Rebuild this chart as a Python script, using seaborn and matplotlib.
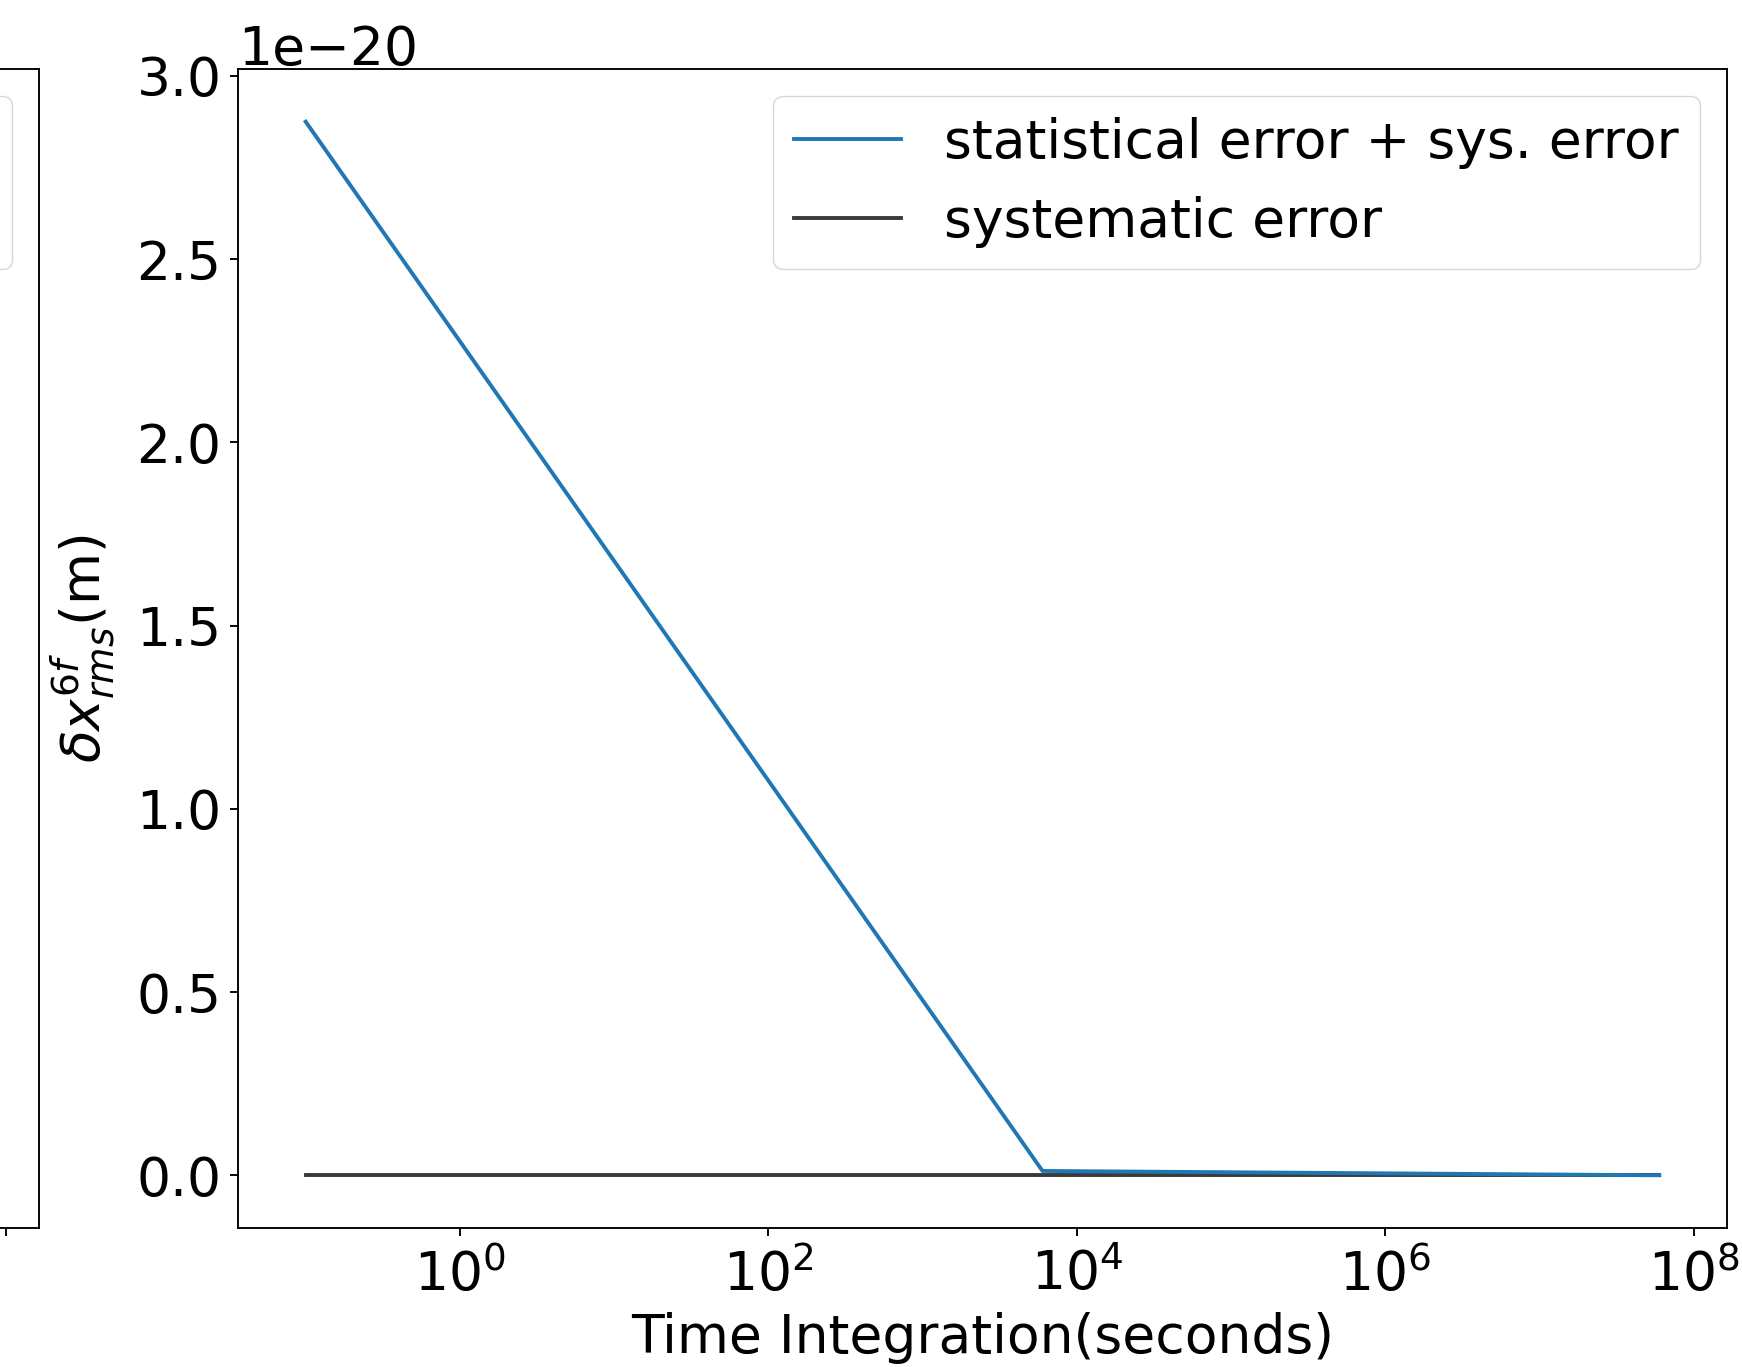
import matplotlib
matplotlib.use("Agg")
import matplotlib.pyplot as plt
from matplotlib.lines import Line2D
import numpy as np
import pandas as pd
import seaborn as sns

# Integration times (s) and rms displacement errors (m)
time_s = [0.1, 6000.0, 6.0e7]
total_err = [2.875e-20, 1.2e-22, 2.0e-24]
sys_err = [1.0e-24, 1.0e-24, 1.0e-24]

label_total = "statistical error + sys. error"
label_sys = "systematic error"
x_label = "Time Integration(seconds)"
y_label = r"$\delta x^{6f}_{rms}$(m)"

BLUE = "#1f77b4"
DARK = "#3a3a3a"
S = 1.7   # scale for line widths / tick sizes
FS = 38.5
LW = 2.8

plt.rcParams.update({
    "font.family": ["DejaVu Sans"],
    "font.size": FS,
    "axes.linewidth": 0.8 * S,
    "xtick.major.size": 3.5 * S,
    "ytick.major.size": 3.5 * S,
    "xtick.minor.size": 0,
    "ytick.minor.size": 0,
    "xtick.major.width": 0.8 * S,
    "ytick.major.width": 0.8 * S,
    "xtick.major.pad": 9.0,
    "ytick.major.pad": 3.5 * S,
    "lines.linewidth": LW,
    "legend.fontsize": FS,
})

W, H = 1742, 1367
fig = plt.figure(figsize=(W / 100, H / 100), dpi=100)

# main panel
ax = fig.add_axes([238 / W, 1 - 1228 / H, (1727 - 238) / W, (1228 - 69) / H])
# neighbouring panel on the left (only its right edge falls inside the figure)
ax_left = fig.add_axes([(39 - 1489) / W, 1 - 1228 / H, 1489 / W, (1228 - 69) / H])

df = pd.DataFrame({"t": time_s, "total": total_err, "sys": sys_err})

ax.set_xscale("log")
sns.lineplot(data=df, x="t", y="sys", ax=ax, color=DARK, sort=False,
             linewidth=LW, zorder=2)
sns.lineplot(data=df, x="t", y="total", ax=ax, color=BLUE, sort=False,
             linewidth=LW, zorder=3)
ax.set_xticks([1e0, 1e2, 1e4, 1e6, 1e8])
ax.xaxis.set_minor_locator(matplotlib.ticker.NullLocator())
ax.set_yticks(np.arange(0, 3.01, 0.5) * 1e-20)
ax.set_xlabel(x_label, labelpad=7)
ax.set_ylabel(y_label, labelpad=14)
handles = [Line2D([], [], color=BLUE, lw=LW),
           Line2D([], [], color=DARK, lw=LW)]
ax.legend(handles, [label_total, label_sys], loc="upper right")

# left panel: same axes set-up, its legend frame shows at the edge
ax_left.set_xscale("log")
ax_left.set_xlim(ax.get_xlim())
ax_left.set_ylim(ax.get_ylim())
ax_left.set_xticks([1e8])
ax_left.xaxis.set_minor_locator(matplotlib.ticker.NullLocator())
ax_left.set_xticklabels([])
ax_left.set_yticks([])
ax_left.legend([Line2D([], [], lw=0), Line2D([], [], lw=0)], [" ", " "],
               loc="upper right", handlelength=0)

fig.savefig("out.png", dpi=100)
